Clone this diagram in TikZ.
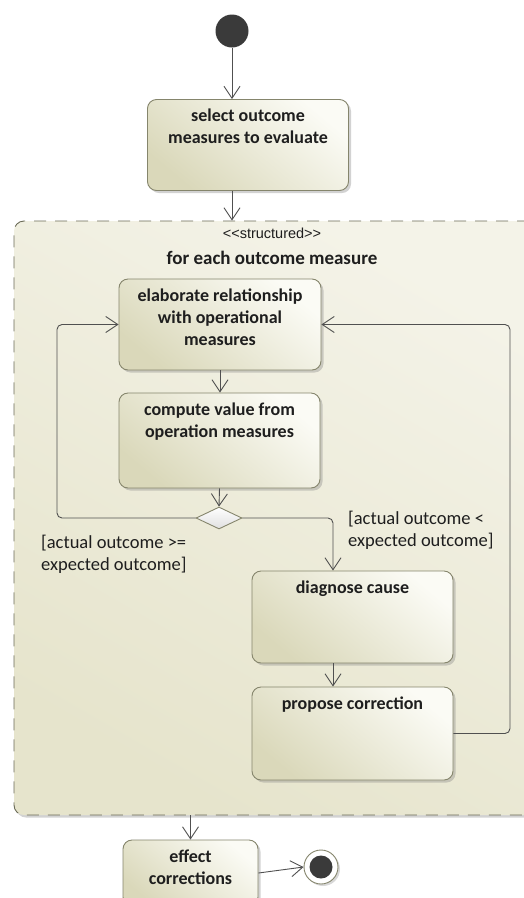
\documentclass[tikz,border=0pt]{standalone}
\usepackage{fontspec}
\setmainfont{Carlito}
\newfontfamily\stereofont{Liberation Sans}
\usetikzlibrary{arrows.meta,shapes.geometric,shadows}

\definecolor{edge}{HTML}{85856C}
\definecolor{boxdark}{HTML}{DAD8BA}
\definecolor{boxlight}{HTML}{FBFBF5}
\definecolor{regdark}{HTML}{E6E4CC}
\definecolor{reglight}{HTML}{F4F3E8}
\definecolor{flow}{HTML}{505050}
\definecolor{ink}{HTML}{1E1E1E}
\definecolor{dot}{HTML}{3A3A3A}

\tikzset{
  action/.style={rectangle, rounded corners=9pt, draw=edge, line width=0.9pt,
    top color=boxlight, bottom color=boxdark, shading angle=-40,
    drop shadow={shadow xshift=2.5pt, shadow yshift=-2.5pt, opacity=0.35},
    inner sep=0pt},
  region/.style={rectangle, rounded corners=10pt, draw=edge!80!black, line width=0.9pt,
    dash pattern=on 12pt off 9pt,
    top color=reglight, bottom color=regdark, shading angle=-30,
    drop shadow={shadow xshift=2pt, shadow yshift=-2.5pt, opacity=0.35},
    inner sep=0pt},
  title/.style={anchor=north, yshift=-10pt, font=\bfseries\fontsize{18}{22}\selectfont,
    text=ink, align=center, inner sep=0pt},
  flowline/.style={draw=flow, line width=0.9pt, rounded corners=5pt},
  arr/.style={flowline, -{Straight Barb[length=12pt,width=16pt,line width=0.9pt]}},
  guard/.style={font=\fontsize{18.5}{22}\selectfont, text=ink, align=left, inner sep=0pt},
  decision/.style={diamond, draw=edge, line width=0.9pt, top color=white,
    bottom color=gray!25, inner sep=0pt, minimum width=46pt, minimum height=22pt},
}

\begin{document}
\begin{tikzpicture}[x=1pt, y=-1pt]
  \useasboundingbox (0,0) rectangle (523,898);
  \fill[white] (0,0) rectangle (523,898);

  % structured activity region
  \node[region, minimum width=525pt, minimum height=594pt] (reg) at (276.5,518) {};
  \node[font=\stereofont\fontsize{14.5}{16}\selectfont, text=ink, inner sep=0pt] (stereo) at (272,233) {<<structured>>};
  \node[font=\bfseries\fontsize{19}{22}\selectfont, text=ink, inner sep=0pt] (loopname) at (272,258) {for each outcome measure};

  % initial and final nodes
  \node[circle, fill=dot, minimum size=33pt, inner sep=0pt] (init) at (232,31) {};
  \node[circle, draw=edge, line width=0.9pt, fill=white, minimum size=34pt, inner sep=0pt,
        drop shadow={shadow xshift=2pt, shadow yshift=-2pt, opacity=0.3}] (final) at (321,867) {};
  \node[circle, fill=dot, minimum size=23pt, inner sep=0pt] (finaldot) at (final) {};

  % actions
  \node[action, minimum width=201pt, minimum height=91pt,
        label={[title]north:select outcome\\measures to evaluate}] (sel) at (248,145) {};
  \node[action, minimum width=202pt, minimum height=91pt,
        label={[title]north:elaborate relationship\\with operational\\measures}] (elab) at (220,324.5) {};
  \node[action, minimum width=201pt, minimum height=95pt,
        label={[title]north:compute value from\\operation measures}] (comp) at (219.5,440.5) {};
  \node[decision] (dec) at (219,518) {};
  \node[action, minimum width=201pt, minimum height=92pt,
        label={[title]north:diagnose cause}] (diag) at (352.5,617) {};
  \node[action, minimum width=201pt, minimum height=93pt,
        label={[title]north:propose correction}] (prop) at (352.5,733.5) {};
  \node[action, minimum width=135pt, minimum height=66pt,
        label={[title]north:effect\\corrections}] (effect) at (190.5,873) {};

  % guards
  \node[guard, anchor=north west] (gless) at (348,511) {[actual outcome <\\expected outcome]};
  \node[guard, anchor=north west] (gmore) at (41,535) {[actual outcome >=\\expected outcome]};

  % bend points of the flows
  \coordinate (lcorner) at (57,518);
  \coordinate (rcorner) at (333,518);
  \coordinate (rloop) at (510,733.5);

  % control flows
  \draw[arr] (init.south) -- (init.south |- sel.north);
  \draw[arr] (init.south |- sel.south) -- (init.south |- reg.north);
  \draw[arr] (elab.south) -- (elab.south |- comp.north);
  \draw[arr] (comp.south) -- (dec.north);
  \draw[arr] (dec.west) -- (lcorner) |- (elab.west);
  \draw[arr] (dec.east) -- (rcorner) -- (rcorner |- diag.north);
  \draw[arr] (rcorner |- diag.south) -- (rcorner |- prop.north);
  \draw[arr] (prop.east) -- (rloop) |- (elab.east);
  \draw[arr] (effect.north |- reg.south) -- (effect.north);
  \draw[arr] (effect.east) -- (final.west);
\end{tikzpicture}
\end{document}
